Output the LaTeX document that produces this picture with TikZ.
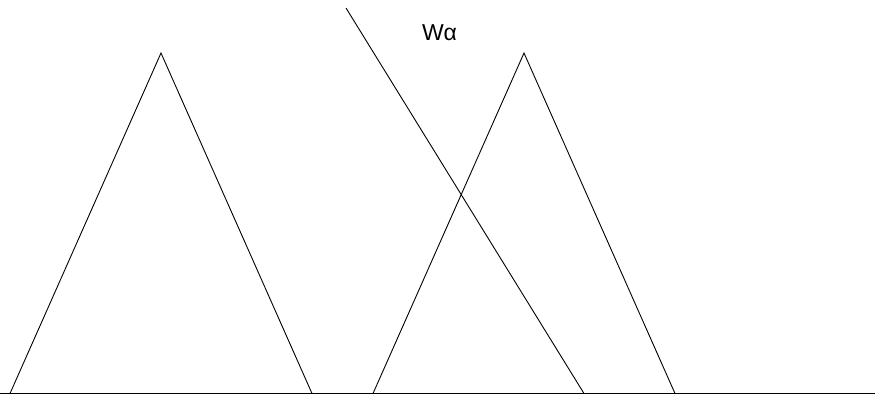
\documentclass[tikz,border=0pt]{standalone}
\usepackage{fontspec}
\setmainfont{Liberation Sans}
\usetikzlibrary{positioning}

\begin{document}
\begin{tikzpicture}[
  x=1pt, y=-1pt,
  curve/.style={draw=black, line width=0.9pt},
  lbl/.style={font=\fontsize{23}{26}\selectfont, inner sep=0pt},
]
\useasboundingbox (0,0) rectangle (875,399);
% axis
\coordinate (axl) at (0,393.5);
\coordinate (axr) at (875,393.5);
\draw[curve] (axl) -- (axr);
% first set
\coordinate (aL) at (10,393.5);
\coordinate (aT) at (161,53);
\coordinate (aR) at (312,393.5);
\draw[curve] (aL) -- (aT) -- (aR);
% second set
\coordinate (bL) at (373,393.5);
\coordinate (bT) at (524,53);
\coordinate (bR) at (675,393.5);
\draw[curve] (bL) -- (bT) -- (bR);
% cut line
\coordinate (wTop) at (346,8);
\coordinate (wBot) at (584,393.5);
\draw[curve] (wTop) -- (wBot);
\node[lbl] (wlabel) at (439.5,33) {Wα};
\end{tikzpicture}
\end{document}
